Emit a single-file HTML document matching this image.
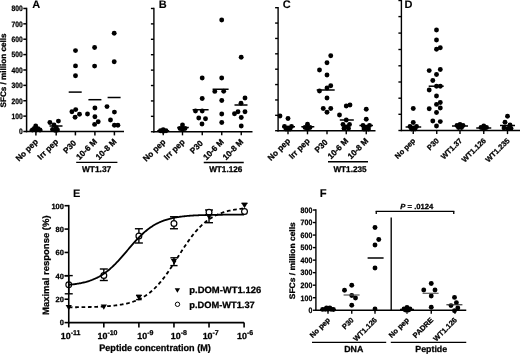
<!DOCTYPE html>
<html><head><meta charset="utf-8"><title>Figure</title>
<style>html,body{margin:0;padding:0;background:#fff}text{stroke:#000;stroke-width:0.28px;stroke-linejoin:round}svg{display:block;font-family:"Liberation Sans",sans-serif;will-change:transform;text-rendering:geometricPrecision}</style></head>
<body><svg width="520" height="354" viewBox="0 0 520 354" font-weight="bold" fill="#000">
<defs><filter id="soft" x="0" y="0" width="520" height="354" filterUnits="userSpaceOnUse"><feGaussianBlur stdDeviation="0.4"/></filter></defs>
<rect width="520" height="354" fill="#fff"/>
<g filter="url(#soft)">
<line x1="26.60" y1="7.75" x2="26.60" y2="132.25" stroke="#000" stroke-width="1.5" />
<line x1="25.85" y1="131.50" x2="124.00" y2="131.50" stroke="#000" stroke-width="1.5" />
<line x1="23.30" y1="131.50" x2="26.60" y2="131.50" stroke="#000" stroke-width="1.5" />
<text x="22.70" y="134.30" font-size="7.8" text-anchor="end" textLength="3.75" lengthAdjust="spacingAndGlyphs" >0</text>
<line x1="23.30" y1="116.12" x2="26.60" y2="116.12" stroke="#000" stroke-width="1.5" />
<text x="22.70" y="118.92" font-size="7.8" text-anchor="end" textLength="11.25" lengthAdjust="spacingAndGlyphs" >100</text>
<line x1="23.30" y1="100.74" x2="26.60" y2="100.74" stroke="#000" stroke-width="1.5" />
<text x="22.70" y="103.54" font-size="7.8" text-anchor="end" textLength="11.25" lengthAdjust="spacingAndGlyphs" >200</text>
<line x1="23.30" y1="85.36" x2="26.60" y2="85.36" stroke="#000" stroke-width="1.5" />
<text x="22.70" y="88.16" font-size="7.8" text-anchor="end" textLength="11.25" lengthAdjust="spacingAndGlyphs" >300</text>
<line x1="23.30" y1="69.98" x2="26.60" y2="69.98" stroke="#000" stroke-width="1.5" />
<text x="22.70" y="72.78" font-size="7.8" text-anchor="end" textLength="11.25" lengthAdjust="spacingAndGlyphs" >400</text>
<line x1="23.30" y1="54.60" x2="26.60" y2="54.60" stroke="#000" stroke-width="1.5" />
<text x="22.70" y="57.40" font-size="7.8" text-anchor="end" textLength="11.25" lengthAdjust="spacingAndGlyphs" >500</text>
<line x1="23.30" y1="39.22" x2="26.60" y2="39.22" stroke="#000" stroke-width="1.5" />
<text x="22.70" y="42.02" font-size="7.8" text-anchor="end" textLength="11.25" lengthAdjust="spacingAndGlyphs" >600</text>
<line x1="23.30" y1="23.84" x2="26.60" y2="23.84" stroke="#000" stroke-width="1.5" />
<text x="22.70" y="26.64" font-size="7.8" text-anchor="end" textLength="11.25" lengthAdjust="spacingAndGlyphs" >700</text>
<line x1="23.30" y1="8.46" x2="26.60" y2="8.46" stroke="#000" stroke-width="1.5" />
<text x="22.70" y="11.26" font-size="7.8" text-anchor="end" textLength="11.25" lengthAdjust="spacingAndGlyphs" >800</text>
<line x1="35.90" y1="131.50" x2="35.90" y2="135.40" stroke="#000" stroke-width="1.5" />
<line x1="56.20" y1="131.50" x2="56.20" y2="135.40" stroke="#000" stroke-width="1.5" />
<line x1="75.40" y1="131.50" x2="75.40" y2="135.40" stroke="#000" stroke-width="1.5" />
<line x1="94.90" y1="131.50" x2="94.90" y2="135.40" stroke="#000" stroke-width="1.5" />
<line x1="114.40" y1="131.50" x2="114.40" y2="135.40" stroke="#000" stroke-width="1.5" />
<text x="38.60" y="142.20" font-size="8.2" text-anchor="end" transform="rotate(-45 38.60 142.20)" >No pep</text>
<text x="58.90" y="142.20" font-size="8.2" text-anchor="end" transform="rotate(-45 58.90 142.20)" >Irr pep</text>
<text x="76.70" y="143.60" font-size="8.2" text-anchor="end" transform="rotate(-45 76.70 143.60)" >P30</text>
<text x="97.60" y="142.20" font-size="8.2" text-anchor="end" transform="rotate(-45 97.60 142.20)" >10-6 M</text>
<text x="117.10" y="142.20" font-size="8.2" text-anchor="end" transform="rotate(-45 117.10 142.20)" >10-8 M</text>
<text x="6.30" y="70.50" font-size="8" text-anchor="middle" transform="rotate(-90 6.30 70.50)" textLength="74" lengthAdjust="spacingAndGlyphs" >SFCs / million cells</text>
<text x="32.30" y="8.20" font-size="11" text-anchor="start" style="stroke-width:0.1px">A</text>
<circle cx="75.50" cy="50.60" r="2.45"/>
<circle cx="75.50" cy="65.90" r="2.45"/>
<circle cx="75.50" cy="75.80" r="2.45"/>
<circle cx="94.60" cy="47.50" r="2.45"/>
<circle cx="94.60" cy="66.10" r="2.45"/>
<circle cx="114.20" cy="33.30" r="2.45"/>
<circle cx="114.20" cy="61.80" r="2.45"/>
<line x1="68.70" y1="92.10" x2="81.70" y2="92.10" stroke="#000" stroke-width="1.5" />
<line x1="88.40" y1="99.70" x2="101.40" y2="99.70" stroke="#000" stroke-width="1.5" />
<line x1="107.60" y1="97.50" x2="120.60" y2="97.50" stroke="#000" stroke-width="1.5" />
<circle cx="71.90" cy="111.80" r="2.45"/>
<circle cx="75.70" cy="109.60" r="2.45"/>
<circle cx="79.50" cy="114.30" r="2.45"/>
<circle cx="75.10" cy="117.30" r="2.45"/>
<circle cx="87.50" cy="114.00" r="2.45"/>
<circle cx="94.90" cy="108.00" r="2.45"/>
<circle cx="94.90" cy="116.70" r="2.45"/>
<circle cx="98.20" cy="121.70" r="2.45"/>
<circle cx="94.60" cy="124.40" r="2.45"/>
<circle cx="107.00" cy="106.60" r="2.45"/>
<circle cx="114.40" cy="112.10" r="2.45"/>
<circle cx="110.50" cy="120.00" r="2.45"/>
<circle cx="114.40" cy="125.20" r="2.45"/>
<circle cx="117.90" cy="125.20" r="2.45"/>
<circle cx="35.70" cy="126.00" r="2.45"/>
<circle cx="32.40" cy="130.00" r="2.45"/>
<circle cx="36.20" cy="130.00" r="2.45"/>
<circle cx="40.00" cy="130.00" r="2.45"/>
<circle cx="34.30" cy="128.50" r="2.45"/>
<circle cx="38.00" cy="128.80" r="2.45"/>
<line x1="29.40" y1="130.20" x2="42.40" y2="130.20" stroke="#000" stroke-width="1.5" />
<circle cx="49.90" cy="122.50" r="2.45"/>
<circle cx="58.40" cy="121.10" r="2.45"/>
<circle cx="54.00" cy="125.00" r="2.45"/>
<circle cx="56.20" cy="127.80" r="2.45"/>
<circle cx="52.50" cy="129.50" r="2.45"/>
<circle cx="57.50" cy="130.00" r="2.45"/>
<circle cx="55.00" cy="130.20" r="2.45"/>
<line x1="49.50" y1="126.00" x2="62.50" y2="126.00" stroke="#000" stroke-width="1.5" />
<line x1="76.20" y1="162.30" x2="117.40" y2="162.30" stroke="#000" stroke-width="1.3" />
<text x="96.60" y="171.80" font-size="8.4" text-anchor="middle" >WT1.37</text>
<line x1="153.90" y1="7.80" x2="153.90" y2="132.45" stroke="#000" stroke-width="1.4" />
<line x1="153.20" y1="131.75" x2="252.50" y2="131.75" stroke="#000" stroke-width="1.4" />
<line x1="150.90" y1="131.75" x2="153.90" y2="131.75" stroke="#000" stroke-width="1.4" />
<line x1="150.90" y1="116.34" x2="153.90" y2="116.34" stroke="#000" stroke-width="1.4" />
<line x1="150.90" y1="100.93" x2="153.90" y2="100.93" stroke="#000" stroke-width="1.4" />
<line x1="150.90" y1="85.52" x2="153.90" y2="85.52" stroke="#000" stroke-width="1.4" />
<line x1="150.90" y1="70.11" x2="153.90" y2="70.11" stroke="#000" stroke-width="1.4" />
<line x1="150.90" y1="54.70" x2="153.90" y2="54.70" stroke="#000" stroke-width="1.4" />
<line x1="150.90" y1="39.29" x2="153.90" y2="39.29" stroke="#000" stroke-width="1.4" />
<line x1="150.90" y1="23.88" x2="153.90" y2="23.88" stroke="#000" stroke-width="1.4" />
<line x1="150.90" y1="8.47" x2="153.90" y2="8.47" stroke="#000" stroke-width="1.4" />
<line x1="163.25" y1="131.75" x2="163.25" y2="135.35" stroke="#000" stroke-width="1.4" />
<line x1="182.50" y1="131.75" x2="182.50" y2="135.35" stroke="#000" stroke-width="1.4" />
<line x1="202.25" y1="131.75" x2="202.25" y2="135.35" stroke="#000" stroke-width="1.4" />
<line x1="221.75" y1="131.75" x2="221.75" y2="135.35" stroke="#000" stroke-width="1.4" />
<line x1="241.25" y1="131.75" x2="241.25" y2="135.35" stroke="#000" stroke-width="1.4" />
<text x="165.95" y="142.45" font-size="8.2" text-anchor="end" transform="rotate(-45 165.95 142.45)" >No pep</text>
<text x="185.20" y="142.45" font-size="8.2" text-anchor="end" transform="rotate(-45 185.20 142.45)" >Irr pep</text>
<text x="203.55" y="143.85" font-size="8.2" text-anchor="end" transform="rotate(-45 203.55 143.85)" >P30</text>
<text x="224.45" y="142.45" font-size="8.2" text-anchor="end" transform="rotate(-45 224.45 142.45)" >10-6 M</text>
<text x="243.95" y="142.45" font-size="8.2" text-anchor="end" transform="rotate(-45 243.95 142.45)" >10-8 M</text>
<text x="158.80" y="8.20" font-size="11" text-anchor="start" style="stroke-width:0.1px">B</text>
<circle cx="221.70" cy="20.00" r="2.45"/>
<circle cx="241.20" cy="57.20" r="2.45"/>
<circle cx="202.20" cy="78.00" r="2.45"/>
<circle cx="221.70" cy="78.00" r="2.45"/>
<circle cx="202.20" cy="98.50" r="2.45"/>
<circle cx="195.50" cy="111.00" r="2.45"/>
<circle cx="202.20" cy="111.00" r="2.45"/>
<circle cx="198.75" cy="118.00" r="2.45"/>
<circle cx="205.50" cy="118.75" r="2.45"/>
<circle cx="202.00" cy="124.00" r="2.45"/>
<line x1="192.60" y1="109.75" x2="208.60" y2="109.75" stroke="#000" stroke-width="1.5" />
<circle cx="214.80" cy="91.40" r="2.45"/>
<circle cx="223.70" cy="91.20" r="2.45"/>
<circle cx="221.75" cy="100.50" r="2.45"/>
<circle cx="221.75" cy="114.00" r="2.45"/>
<circle cx="221.75" cy="122.50" r="2.45"/>
<line x1="212.60" y1="89.25" x2="228.60" y2="89.25" stroke="#000" stroke-width="1.5" />
<circle cx="245.00" cy="98.00" r="2.45"/>
<circle cx="241.00" cy="103.30" r="2.45"/>
<circle cx="234.50" cy="113.75" r="2.45"/>
<circle cx="238.00" cy="111.75" r="2.45"/>
<circle cx="245.00" cy="111.75" r="2.45"/>
<circle cx="241.25" cy="117.50" r="2.45"/>
<circle cx="241.25" cy="126.00" r="2.45"/>
<line x1="234.50" y1="105.00" x2="247.50" y2="105.00" stroke="#000" stroke-width="1.5" />
<circle cx="160.50" cy="130.80" r="2.45"/>
<circle cx="163.20" cy="129.80" r="2.45"/>
<circle cx="166.00" cy="130.80" r="2.45"/>
<circle cx="163.20" cy="131.20" r="2.45"/>
<line x1="157.20" y1="130.80" x2="169.20" y2="130.80" stroke="#000" stroke-width="1.5" />
<circle cx="182.50" cy="125.00" r="2.45"/>
<circle cx="180.00" cy="128.50" r="2.45"/>
<circle cx="185.00" cy="128.50" r="2.45"/>
<circle cx="182.50" cy="129.50" r="2.45"/>
<line x1="177.20" y1="127.50" x2="188.80" y2="127.50" stroke="#000" stroke-width="1.5" />
<line x1="203.75" y1="162.50" x2="243.75" y2="162.50" stroke="#000" stroke-width="1.3" />
<text x="225.75" y="172.00" font-size="8.2" text-anchor="middle" >WT1.126</text>
<line x1="278.10" y1="7.00" x2="278.10" y2="131.40" stroke="#000" stroke-width="1.4" />
<line x1="277.40" y1="130.70" x2="375.50" y2="130.70" stroke="#000" stroke-width="1.4" />
<line x1="275.10" y1="130.70" x2="278.10" y2="130.70" stroke="#000" stroke-width="1.4" />
<line x1="275.10" y1="115.32" x2="278.10" y2="115.32" stroke="#000" stroke-width="1.4" />
<line x1="275.10" y1="99.95" x2="278.10" y2="99.95" stroke="#000" stroke-width="1.4" />
<line x1="275.10" y1="84.57" x2="278.10" y2="84.57" stroke="#000" stroke-width="1.4" />
<line x1="275.10" y1="69.20" x2="278.10" y2="69.20" stroke="#000" stroke-width="1.4" />
<line x1="275.10" y1="53.82" x2="278.10" y2="53.82" stroke="#000" stroke-width="1.4" />
<line x1="275.10" y1="38.45" x2="278.10" y2="38.45" stroke="#000" stroke-width="1.4" />
<line x1="275.10" y1="23.07" x2="278.10" y2="23.07" stroke="#000" stroke-width="1.4" />
<line x1="275.10" y1="7.70" x2="278.10" y2="7.70" stroke="#000" stroke-width="1.4" />
<line x1="288.00" y1="130.70" x2="288.00" y2="134.30" stroke="#000" stroke-width="1.4" />
<line x1="307.50" y1="130.70" x2="307.50" y2="134.30" stroke="#000" stroke-width="1.4" />
<line x1="327.00" y1="130.70" x2="327.00" y2="134.30" stroke="#000" stroke-width="1.4" />
<line x1="346.25" y1="130.70" x2="346.25" y2="134.30" stroke="#000" stroke-width="1.4" />
<line x1="366.25" y1="130.70" x2="366.25" y2="134.30" stroke="#000" stroke-width="1.4" />
<text x="290.70" y="141.50" font-size="8.2" text-anchor="end" transform="rotate(-45 290.70 141.50)" >No pep</text>
<text x="310.20" y="141.50" font-size="8.2" text-anchor="end" transform="rotate(-45 310.20 141.50)" >Irr pep</text>
<text x="328.30" y="142.90" font-size="8.2" text-anchor="end" transform="rotate(-45 328.30 142.90)" >P30</text>
<text x="348.95" y="141.50" font-size="8.2" text-anchor="end" transform="rotate(-45 348.95 141.50)" >10-6 M</text>
<text x="368.95" y="141.50" font-size="8.2" text-anchor="end" transform="rotate(-45 368.95 141.50)" >10-8 M</text>
<text x="282.80" y="8.20" font-size="11" text-anchor="start" style="stroke-width:0.1px">C</text>
<circle cx="330.75" cy="55.75" r="2.45"/>
<circle cx="327.00" cy="62.75" r="2.45"/>
<circle cx="319.50" cy="70.00" r="2.45"/>
<circle cx="327.00" cy="75.00" r="2.45"/>
<circle cx="330.75" cy="85.75" r="2.45"/>
<circle cx="327.00" cy="88.00" r="2.45"/>
<circle cx="319.50" cy="91.00" r="2.45"/>
<circle cx="327.00" cy="98.00" r="2.45"/>
<circle cx="323.25" cy="108.50" r="2.45"/>
<circle cx="330.75" cy="108.50" r="2.45"/>
<circle cx="327.00" cy="112.30" r="2.45"/>
<line x1="316.70" y1="90.00" x2="334.70" y2="90.00" stroke="#000" stroke-width="1.5" />
<circle cx="280.00" cy="116.00" r="2.45"/>
<circle cx="288.00" cy="118.50" r="2.45"/>
<circle cx="284.50" cy="126.50" r="2.45"/>
<circle cx="291.50" cy="126.50" r="2.45"/>
<circle cx="286.00" cy="129.00" r="2.45"/>
<circle cx="290.00" cy="129.00" r="2.45"/>
<circle cx="288.00" cy="128.00" r="2.45"/>
<line x1="282.00" y1="126.75" x2="295.00" y2="126.75" stroke="#000" stroke-width="1.5" />
<circle cx="307.50" cy="124.25" r="2.45"/>
<circle cx="305.00" cy="127.50" r="2.45"/>
<circle cx="310.00" cy="127.50" r="2.45"/>
<circle cx="307.50" cy="129.00" r="2.45"/>
<line x1="301.30" y1="126.75" x2="314.30" y2="126.75" stroke="#000" stroke-width="1.5" />
<circle cx="346.25" cy="106.00" r="2.45"/>
<circle cx="350.00" cy="105.00" r="2.45"/>
<circle cx="339.50" cy="115.00" r="2.45"/>
<circle cx="346.25" cy="120.00" r="2.45"/>
<circle cx="343.00" cy="124.50" r="2.45"/>
<circle cx="349.50" cy="124.50" r="2.45"/>
<circle cx="346.25" cy="127.00" r="2.45"/>
<circle cx="344.00" cy="128.50" r="2.45"/>
<circle cx="348.50" cy="128.50" r="2.45"/>
<line x1="339.80" y1="120.00" x2="353.80" y2="120.00" stroke="#000" stroke-width="1.5" />
<circle cx="366.25" cy="109.25" r="2.45"/>
<circle cx="366.25" cy="119.25" r="2.45"/>
<circle cx="363.00" cy="125.50" r="2.45"/>
<circle cx="369.50" cy="125.50" r="2.45"/>
<circle cx="366.25" cy="127.50" r="2.45"/>
<circle cx="364.00" cy="129.00" r="2.45"/>
<circle cx="368.50" cy="129.00" r="2.45"/>
<line x1="359.40" y1="125.50" x2="373.00" y2="125.50" stroke="#000" stroke-width="1.5" />
<line x1="328.00" y1="161.75" x2="368.00" y2="161.75" stroke="#000" stroke-width="1.3" />
<text x="350.00" y="171.50" font-size="8.2" text-anchor="middle" >WT1.235</text>
<line x1="401.40" y1="-0.20" x2="401.40" y2="131.20" stroke="#000" stroke-width="1.4" />
<line x1="400.70" y1="130.50" x2="520.00" y2="130.50" stroke="#000" stroke-width="1.4" />
<line x1="398.40" y1="130.50" x2="401.40" y2="130.50" stroke="#000" stroke-width="1.4" />
<line x1="398.40" y1="114.30" x2="401.40" y2="114.30" stroke="#000" stroke-width="1.4" />
<line x1="398.40" y1="98.20" x2="401.40" y2="98.20" stroke="#000" stroke-width="1.4" />
<line x1="398.40" y1="82.00" x2="401.40" y2="82.00" stroke="#000" stroke-width="1.4" />
<line x1="398.40" y1="65.80" x2="401.40" y2="65.80" stroke="#000" stroke-width="1.4" />
<line x1="398.40" y1="49.50" x2="401.40" y2="49.50" stroke="#000" stroke-width="1.4" />
<line x1="398.40" y1="33.10" x2="401.40" y2="33.10" stroke="#000" stroke-width="1.4" />
<line x1="398.40" y1="16.60" x2="401.40" y2="16.60" stroke="#000" stroke-width="1.4" />
<line x1="398.40" y1="0.50" x2="401.40" y2="0.50" stroke="#000" stroke-width="1.4" />
<line x1="413.25" y1="130.50" x2="413.25" y2="134.10" stroke="#000" stroke-width="1.4" />
<line x1="436.75" y1="130.50" x2="436.75" y2="134.10" stroke="#000" stroke-width="1.4" />
<line x1="460.00" y1="130.50" x2="460.00" y2="134.10" stroke="#000" stroke-width="1.4" />
<line x1="483.75" y1="130.50" x2="483.75" y2="134.10" stroke="#000" stroke-width="1.4" />
<line x1="507.50" y1="130.50" x2="507.50" y2="134.10" stroke="#000" stroke-width="1.4" />
<text x="415.85" y="141.20" font-size="7.5" text-anchor="end" transform="rotate(-45 415.85 141.20)" >No pep</text>
<text x="439.35" y="141.20" font-size="7.5" text-anchor="end" transform="rotate(-45 439.35 141.20)" >P30</text>
<text x="462.60" y="141.20" font-size="7.5" text-anchor="end" transform="rotate(-45 462.60 141.20)" >WT1.37</text>
<text x="486.35" y="141.20" font-size="7.5" text-anchor="end" transform="rotate(-45 486.35 141.20)" >WT1.126</text>
<text x="510.10" y="141.20" font-size="7.5" text-anchor="end" transform="rotate(-45 510.10 141.20)" >WT1.235</text>
<text x="404.50" y="8.20" font-size="11" text-anchor="start" style="stroke-width:0.1px">D</text>
<circle cx="436.50" cy="30.00" r="2.45"/>
<circle cx="436.50" cy="40.00" r="2.45"/>
<circle cx="436.50" cy="49.30" r="2.45"/>
<circle cx="440.30" cy="47.80" r="2.45"/>
<circle cx="429.20" cy="70.60" r="2.45"/>
<circle cx="440.30" cy="69.50" r="2.45"/>
<circle cx="436.50" cy="74.50" r="2.45"/>
<circle cx="432.80" cy="80.50" r="2.45"/>
<circle cx="436.50" cy="86.20" r="2.45"/>
<circle cx="440.30" cy="86.20" r="2.45"/>
<circle cx="429.20" cy="90.00" r="2.45"/>
<circle cx="436.50" cy="96.00" r="2.45"/>
<circle cx="440.30" cy="102.50" r="2.45"/>
<circle cx="436.50" cy="104.40" r="2.45"/>
<circle cx="429.20" cy="108.80" r="2.45"/>
<circle cx="440.30" cy="108.00" r="2.45"/>
<circle cx="436.50" cy="112.50" r="2.45"/>
<circle cx="432.80" cy="121.00" r="2.45"/>
<circle cx="440.30" cy="121.60" r="2.45"/>
<circle cx="436.50" cy="126.00" r="2.45"/>
<line x1="428.70" y1="86.20" x2="443.70" y2="86.20" stroke="#000" stroke-width="1.5" />
<circle cx="413.25" cy="108.50" r="2.45"/>
<circle cx="413.25" cy="122.50" r="2.45"/>
<circle cx="410.00" cy="126.50" r="2.45"/>
<circle cx="416.50" cy="126.50" r="2.45"/>
<circle cx="411.50" cy="129.00" r="2.45"/>
<circle cx="415.00" cy="129.00" r="2.45"/>
<circle cx="413.25" cy="128.00" r="2.45"/>
<line x1="405.60" y1="127.00" x2="421.20" y2="127.00" stroke="#000" stroke-width="1.5" />
<circle cx="457.00" cy="125.50" r="2.45"/>
<circle cx="460.00" cy="124.50" r="2.45"/>
<circle cx="463.00" cy="125.50" r="2.45"/>
<circle cx="458.50" cy="127.50" r="2.45"/>
<circle cx="461.50" cy="127.50" r="2.45"/>
<line x1="452.00" y1="126.00" x2="468.00" y2="126.00" stroke="#000" stroke-width="1.5" />
<circle cx="481.00" cy="127.50" r="2.45"/>
<circle cx="483.75" cy="126.00" r="2.45"/>
<circle cx="486.50" cy="127.50" r="2.45"/>
<circle cx="483.75" cy="129.00" r="2.45"/>
<line x1="476.25" y1="128.00" x2="491.25" y2="128.00" stroke="#000" stroke-width="1.5" />
<circle cx="507.50" cy="116.25" r="2.45"/>
<circle cx="505.00" cy="122.25" r="2.45"/>
<circle cx="510.00" cy="125.00" r="2.45"/>
<circle cx="504.00" cy="128.00" r="2.45"/>
<circle cx="508.00" cy="128.50" r="2.45"/>
<circle cx="511.00" cy="128.50" r="2.45"/>
<line x1="500.00" y1="125.50" x2="515.00" y2="125.50" stroke="#000" stroke-width="1.5" />
<line x1="68.75" y1="204.90" x2="68.75" y2="323.40" stroke="#000" stroke-width="1.6" />
<line x1="67.95" y1="322.60" x2="244.10" y2="322.60" stroke="#000" stroke-width="1.6" />
<line x1="64.55" y1="322.60" x2="68.75" y2="322.60" stroke="#000" stroke-width="1.6" />
<text x="63.95" y="325.40" font-size="7.5" text-anchor="end" >0</text>
<line x1="64.55" y1="299.22" x2="68.75" y2="299.22" stroke="#000" stroke-width="1.6" />
<text x="63.95" y="302.02" font-size="7.5" text-anchor="end" >20</text>
<line x1="64.55" y1="275.84" x2="68.75" y2="275.84" stroke="#000" stroke-width="1.6" />
<text x="63.95" y="278.64" font-size="7.5" text-anchor="end" >40</text>
<line x1="64.55" y1="252.46" x2="68.75" y2="252.46" stroke="#000" stroke-width="1.6" />
<text x="63.95" y="255.26" font-size="7.5" text-anchor="end" >60</text>
<line x1="64.55" y1="229.08" x2="68.75" y2="229.08" stroke="#000" stroke-width="1.6" />
<text x="63.95" y="231.88" font-size="7.5" text-anchor="end" >80</text>
<line x1="64.55" y1="205.70" x2="68.75" y2="205.70" stroke="#000" stroke-width="1.6" />
<text x="63.95" y="208.50" font-size="7.5" text-anchor="end" >100</text>
<line x1="68.75" y1="322.60" x2="68.75" y2="327.40" stroke="#000" stroke-width="1.6" />
<line x1="103.82" y1="322.60" x2="103.82" y2="327.40" stroke="#000" stroke-width="1.6" />
<line x1="138.89" y1="322.60" x2="138.89" y2="327.40" stroke="#000" stroke-width="1.6" />
<line x1="173.96" y1="322.60" x2="173.96" y2="327.40" stroke="#000" stroke-width="1.6" />
<line x1="209.03" y1="322.60" x2="209.03" y2="327.40" stroke="#000" stroke-width="1.6" />
<line x1="244.10" y1="322.60" x2="244.10" y2="327.40" stroke="#000" stroke-width="1.6" />
<text x="73.00" y="197.30" font-size="11" text-anchor="start" style="stroke-width:0.1px">E</text>
<text x="48.60" y="265.20" font-size="9.2" text-anchor="middle" transform="rotate(-90 48.60 265.20)" textLength="99.5" lengthAdjust="spacingAndGlyphs" >Maximal response (%)</text>
<text x="155.00" y="350.50" font-size="9.5" text-anchor="middle" textLength="111.5" lengthAdjust="spacingAndGlyphs" >Peptide concentration (M)</text>
<text x="60.75" y="338.6" font-size="8.9">10<tspan dy="-4.1" font-size="7">-11</tspan></text>
<text x="97.52" y="338.6" font-size="8.9">10<tspan dy="-4.1" font-size="7">-10</tspan></text>
<text x="137.29" y="338.6" font-size="8.9">10<tspan dy="-4.1" font-size="7">-9</tspan></text>
<text x="170.76" y="338.6" font-size="8.9">10<tspan dy="-4.1" font-size="7">-8</tspan></text>
<text x="202.63" y="338.6" font-size="8.9">10<tspan dy="-4.1" font-size="7">-7</tspan></text>
<text x="237.00" y="338.6" font-size="8.9">10<tspan dy="-4.1" font-size="7">-6</tspan></text>
<line x1="68.75" y1="275.60" x2="68.75" y2="293.80" stroke="#000" stroke-width="1.4" />
<line x1="64.75" y1="275.60" x2="72.75" y2="275.60" stroke="#000" stroke-width="1.4" />
<line x1="64.75" y1="293.80" x2="72.75" y2="293.80" stroke="#000" stroke-width="1.4" />
<circle cx="68.75" cy="284.75" r="2.9" fill="none" stroke="#000" stroke-width="1.1"/>
<line x1="103.82" y1="269.00" x2="103.82" y2="280.50" stroke="#000" stroke-width="1.4" />
<line x1="99.82" y1="269.00" x2="107.82" y2="269.00" stroke="#000" stroke-width="1.4" />
<line x1="99.82" y1="280.50" x2="107.82" y2="280.50" stroke="#000" stroke-width="1.4" />
<circle cx="103.82" cy="275.50" r="2.9" fill="#fff" stroke="#000" stroke-width="1.2"/>
<line x1="138.89" y1="228.75" x2="138.89" y2="243.00" stroke="#000" stroke-width="1.4" />
<line x1="134.89" y1="228.75" x2="142.89" y2="228.75" stroke="#000" stroke-width="1.4" />
<line x1="134.89" y1="243.00" x2="142.89" y2="243.00" stroke="#000" stroke-width="1.4" />
<circle cx="138.89" cy="236.00" r="2.9" fill="#fff" stroke="#000" stroke-width="1.2"/>
<line x1="173.96" y1="216.75" x2="173.96" y2="228.75" stroke="#000" stroke-width="1.4" />
<line x1="169.96" y1="216.75" x2="177.96" y2="216.75" stroke="#000" stroke-width="1.4" />
<line x1="169.96" y1="228.75" x2="177.96" y2="228.75" stroke="#000" stroke-width="1.4" />
<circle cx="173.96" cy="223.50" r="2.9" fill="#fff" stroke="#000" stroke-width="1.2"/>
<line x1="209.03" y1="210.00" x2="209.03" y2="222.70" stroke="#000" stroke-width="1.4" />
<line x1="205.03" y1="210.00" x2="213.03" y2="210.00" stroke="#000" stroke-width="1.4" />
<line x1="205.03" y1="222.70" x2="213.03" y2="222.70" stroke="#000" stroke-width="1.4" />
<circle cx="209.03" cy="212.30" r="2.9" fill="#fff" stroke="#000" stroke-width="1.2"/>
<circle cx="244.50" cy="211.50" r="2.9" fill="#fff" stroke="#000" stroke-width="1.2"/>
<polyline points="68.75,284.86 69.63,284.77 70.50,284.68 71.38,284.58 72.26,284.48 73.13,284.37 74.01,284.26 74.89,284.14 75.76,284.01 76.64,283.87 77.52,283.73 78.39,283.58 79.27,283.42 80.15,283.26 81.02,283.08 81.90,282.90 82.78,282.70 83.65,282.50 84.53,282.28 85.41,282.05 86.28,281.82 87.16,281.56 88.04,281.30 88.92,281.02 89.79,280.73 90.67,280.43 91.55,280.10 92.42,279.77 93.30,279.41 94.18,279.04 95.05,278.66 95.93,278.25 96.81,277.83 97.68,277.39 98.56,276.93 99.44,276.44 100.31,275.94 101.19,275.42 102.07,274.87 102.94,274.31 103.82,273.72 104.70,273.11 105.57,272.47 106.45,271.82 107.33,271.14 108.20,270.44 109.08,269.71 109.96,268.97 110.83,268.20 111.71,267.40 112.59,266.59 113.46,265.75 114.34,264.90 115.22,264.02 116.09,263.13 116.97,262.21 117.85,261.28 118.72,260.34 119.60,259.37 120.48,258.40 121.36,257.41 122.23,256.41 123.11,255.40 123.99,254.38 124.86,253.36 125.74,252.33 126.62,251.30 127.49,250.27 128.37,249.23 129.25,248.20 130.12,247.18 131.00,246.16 131.88,245.14 132.75,244.14 133.63,243.14 134.51,242.16 135.38,241.19 136.26,240.23 137.14,239.29 138.01,238.36 138.89,237.46 139.77,236.57 140.64,235.70 141.52,234.85 142.40,234.03 143.27,233.22 144.15,232.44 145.03,231.68 145.90,230.94 146.78,230.22 147.66,229.53 148.53,228.86 149.41,228.22 150.29,227.59 151.16,226.99 152.04,226.41 152.92,225.85 153.79,225.32 154.67,224.80 155.55,224.31 156.43,223.83 157.30,223.38 158.18,222.94 159.06,222.53 159.93,222.13 160.81,221.75 161.69,221.39 162.56,221.04 163.44,220.71 164.32,220.40 165.19,220.10 166.07,219.81 166.95,219.54 167.82,219.28 168.70,219.03 169.58,218.80 170.45,218.58 171.33,218.36 172.21,218.16 173.08,217.97 173.96,217.79 174.84,217.62 175.71,217.46 176.59,217.30 177.47,217.16 178.34,217.02 179.22,216.88 180.10,216.76 180.97,216.64 181.85,216.53 182.73,216.42 183.60,216.32 184.48,216.23 185.36,216.14 186.23,216.05 187.11,215.97 187.99,215.90 188.86,215.82 189.74,215.76 190.62,215.69 191.50,215.63 192.37,215.57 193.25,215.52 194.13,215.47 195.00,215.42 195.88,215.37 196.76,215.33 197.63,215.29 198.51,215.25 199.39,215.21 200.26,215.18 201.14,215.14 202.02,215.11 202.89,215.08 203.77,215.06 204.65,215.03 205.52,215.00 206.40,214.98 207.28,214.96 208.15,214.94 209.03,214.92 209.91,214.90 210.78,214.88 211.66,214.87 212.54,214.85 213.41,214.84 214.29,214.82 215.17,214.81 216.04,214.80 216.92,214.78 217.80,214.77 218.67,214.76 219.55,214.75 220.43,214.74 221.30,214.73 222.18,214.73 223.06,214.72 223.93,214.71 224.81,214.70 225.69,214.70 226.56,214.69 227.44,214.68 228.32,214.68 229.20,214.67 230.07,214.67 230.95,214.66 231.83,214.66 232.70,214.66 233.58,214.65 234.46,214.65 235.33,214.64 236.21,214.64 237.09,214.64 237.96,214.63 238.84,214.63 239.72,214.63 240.59,214.63 241.47,214.62 242.35,214.62 243.22,214.62 244.10,214.62" fill="none" stroke="#000" stroke-width="1.8"/>
<polyline points="68.75,307.30 69.63,307.29 70.50,307.28 71.38,307.28 72.26,307.27 73.13,307.26 74.01,307.25 74.89,307.24 75.76,307.24 76.64,307.23 77.52,307.22 78.39,307.21 79.27,307.20 80.15,307.18 81.02,307.17 81.90,307.16 82.78,307.14 83.65,307.13 84.53,307.11 85.41,307.10 86.28,307.08 87.16,307.06 88.04,307.04 88.92,307.02 89.79,307.00 90.67,306.98 91.55,306.96 92.42,306.93 93.30,306.90 94.18,306.88 95.05,306.85 95.93,306.81 96.81,306.78 97.68,306.75 98.56,306.71 99.44,306.67 100.31,306.63 101.19,306.59 102.07,306.54 102.94,306.49 103.82,306.44 104.70,306.39 105.57,306.33 106.45,306.27 107.33,306.21 108.20,306.14 109.08,306.07 109.96,306.00 110.83,305.92 111.71,305.84 112.59,305.75 113.46,305.66 114.34,305.56 115.22,305.46 116.09,305.35 116.97,305.24 117.85,305.12 118.72,304.99 119.60,304.86 120.48,304.72 121.36,304.57 122.23,304.41 123.11,304.25 123.99,304.08 124.86,303.90 125.74,303.71 126.62,303.51 127.49,303.29 128.37,303.07 129.25,302.84 130.12,302.59 131.00,302.33 131.88,302.06 132.75,301.78 133.63,301.48 134.51,301.16 135.38,300.84 136.26,300.49 137.14,300.13 138.01,299.75 138.89,299.35 139.77,298.93 140.64,298.50 141.52,298.04 142.40,297.56 143.27,297.06 144.15,296.54 145.03,296.00 145.90,295.43 146.78,294.84 147.66,294.22 148.53,293.58 149.41,292.91 150.29,292.21 151.16,291.49 152.04,290.74 152.92,289.96 153.79,289.16 154.67,288.32 155.55,287.46 156.43,286.56 157.30,285.64 158.18,284.69 159.06,283.71 159.93,282.70 160.81,281.66 161.69,280.59 162.56,279.50 163.44,278.38 164.32,277.23 165.19,276.05 166.07,274.86 166.95,273.63 167.82,272.39 168.70,271.13 169.58,269.84 170.45,268.54 171.33,267.22 172.21,265.89 173.08,264.54 173.96,263.19 174.84,261.82 175.71,260.45 176.59,259.07 177.47,257.69 178.34,256.31 179.22,254.93 180.10,253.55 180.97,252.18 181.85,250.81 182.73,249.46 183.60,248.12 184.48,246.79 185.36,245.47 186.23,244.17 187.11,242.89 187.99,241.63 188.86,240.39 189.74,239.17 190.62,237.98 191.50,236.81 192.37,235.67 193.25,234.55 194.13,233.46 195.00,232.40 195.88,231.37 196.76,230.37 197.63,229.39 198.51,228.44 199.39,227.53 200.26,226.64 201.14,225.78 202.02,224.95 202.89,224.15 203.77,223.38 204.65,222.63 205.52,221.92 206.40,221.23 207.28,220.56 208.15,219.93 209.03,219.31 209.91,218.73 210.78,218.16 211.66,217.62 212.54,217.11 213.41,216.61 214.29,216.14 215.17,215.69 216.04,215.25 216.92,214.84 217.80,214.45 218.67,214.07 219.55,213.71 220.43,213.37 221.30,213.04 222.18,212.73 223.06,212.44 223.93,212.15 224.81,211.89 225.69,211.63 226.56,211.39 227.44,211.16 228.32,210.94 229.20,210.73 230.07,210.53 230.95,210.34 231.83,210.16 232.70,209.99 233.58,209.83 234.46,209.67 235.33,209.53 236.21,209.39 237.09,209.26 237.96,209.13 238.84,209.01 239.72,208.90 240.59,208.79 241.47,208.69 242.35,208.60 243.22,208.51 244.10,208.42" fill="none" stroke="#000" stroke-width="1.8" stroke-dasharray="3.7 2.7"/>
<polygon points="65.65,305.02 71.85,305.02 68.75,310.29"/>
<polygon points="100.72,304.52 106.92,304.52 103.82,309.79"/>
<polygon points="135.79,295.02 141.99,295.02 138.89,300.29"/>
<polygon points="170.86,259.02 177.06,259.02 173.96,264.29"/>
<polygon points="205.93,214.22 212.13,214.22 209.03,219.49"/>
<polygon points="241.40,202.92 247.60,202.92 244.50,208.19"/>
<line x1="173.96" y1="257.80" x2="173.96" y2="265.60" stroke="#000" stroke-width="1.4" />
<line x1="170.36" y1="257.80" x2="177.56" y2="257.80" stroke="#000" stroke-width="1.4" />
<line x1="170.36" y1="265.60" x2="177.56" y2="265.60" stroke="#000" stroke-width="1.4" />
<line x1="138.89" y1="295.30" x2="138.89" y2="299.60" stroke="#000" stroke-width="1.4" />
<line x1="136.09" y1="295.30" x2="141.69" y2="295.30" stroke="#000" stroke-width="1.4" />
<line x1="136.09" y1="299.60" x2="141.69" y2="299.60" stroke="#000" stroke-width="1.4" />
<line x1="241.50" y1="203.20" x2="247.50" y2="203.20" stroke="#000" stroke-width="1.2" />
<polygon points="174.70,288.14 180.10,288.14 177.40,292.73"/>
<text x="189.25" y="293.30" font-size="9.2" text-anchor="start" textLength="72" lengthAdjust="spacingAndGlyphs" >p.DOM-WT1.126</text>
<circle cx="177.5" cy="304.3" r="2.2" fill="#fff" stroke="#000" stroke-width="1"/>
<text x="189.25" y="307.80" font-size="9.2" text-anchor="start" textLength="65.5" lengthAdjust="spacingAndGlyphs" >p.DOM-WT1.37</text>
<line x1="315.90" y1="209.30" x2="315.90" y2="310.95" stroke="#000" stroke-width="1.4" />
<line x1="315.20" y1="310.25" x2="466.25" y2="310.25" stroke="#000" stroke-width="1.4" />
<line x1="312.90" y1="310.25" x2="315.90" y2="310.25" stroke="#000" stroke-width="1.4" />
<text x="312.30" y="313.05" font-size="7.8" text-anchor="end" textLength="3.9" lengthAdjust="spacingAndGlyphs" >0</text>
<line x1="312.90" y1="297.72" x2="315.90" y2="297.72" stroke="#000" stroke-width="1.4" />
<text x="312.30" y="300.52" font-size="7.8" text-anchor="end" textLength="11.7" lengthAdjust="spacingAndGlyphs" >100</text>
<line x1="312.90" y1="285.19" x2="315.90" y2="285.19" stroke="#000" stroke-width="1.4" />
<text x="312.30" y="287.99" font-size="7.8" text-anchor="end" textLength="11.7" lengthAdjust="spacingAndGlyphs" >200</text>
<line x1="312.90" y1="272.66" x2="315.90" y2="272.66" stroke="#000" stroke-width="1.4" />
<text x="312.30" y="275.46" font-size="7.8" text-anchor="end" textLength="11.7" lengthAdjust="spacingAndGlyphs" >300</text>
<line x1="312.90" y1="260.13" x2="315.90" y2="260.13" stroke="#000" stroke-width="1.4" />
<text x="312.30" y="262.93" font-size="7.8" text-anchor="end" textLength="11.7" lengthAdjust="spacingAndGlyphs" >400</text>
<line x1="312.90" y1="247.60" x2="315.90" y2="247.60" stroke="#000" stroke-width="1.4" />
<text x="312.30" y="250.40" font-size="7.8" text-anchor="end" textLength="11.7" lengthAdjust="spacingAndGlyphs" >500</text>
<line x1="312.90" y1="235.07" x2="315.90" y2="235.07" stroke="#000" stroke-width="1.4" />
<text x="312.30" y="237.87" font-size="7.8" text-anchor="end" textLength="11.7" lengthAdjust="spacingAndGlyphs" >600</text>
<line x1="312.90" y1="222.54" x2="315.90" y2="222.54" stroke="#000" stroke-width="1.4" />
<text x="312.30" y="225.34" font-size="7.8" text-anchor="end" textLength="11.7" lengthAdjust="spacingAndGlyphs" >700</text>
<line x1="312.90" y1="210.01" x2="315.90" y2="210.01" stroke="#000" stroke-width="1.4" />
<text x="312.30" y="212.81" font-size="7.8" text-anchor="end" textLength="11.7" lengthAdjust="spacingAndGlyphs" >800</text>
<line x1="328.00" y1="310.25" x2="328.00" y2="313.85" stroke="#000" stroke-width="1.4" />
<line x1="351.75" y1="310.25" x2="351.75" y2="313.85" stroke="#000" stroke-width="1.4" />
<line x1="375.00" y1="310.25" x2="375.00" y2="313.85" stroke="#000" stroke-width="1.4" />
<line x1="407.00" y1="310.25" x2="407.00" y2="313.85" stroke="#000" stroke-width="1.4" />
<line x1="431.25" y1="310.25" x2="431.25" y2="313.85" stroke="#000" stroke-width="1.4" />
<line x1="455.00" y1="310.25" x2="455.00" y2="313.85" stroke="#000" stroke-width="1.4" />
<text x="330.50" y="320.55" font-size="7.4" text-anchor="end" transform="rotate(-45 330.50 320.55)" >No pep</text>
<text x="354.25" y="320.55" font-size="7.4" text-anchor="end" transform="rotate(-45 354.25 320.55)" >P30</text>
<text x="377.50" y="320.55" font-size="7.4" text-anchor="end" transform="rotate(-45 377.50 320.55)" >WT1.126</text>
<text x="409.50" y="320.55" font-size="7.4" text-anchor="end" transform="rotate(-45 409.50 320.55)" >No pep</text>
<text x="433.75" y="320.55" font-size="7.4" text-anchor="end" transform="rotate(-45 433.75 320.55)" >PADRE</text>
<text x="457.50" y="320.55" font-size="7.4" text-anchor="end" transform="rotate(-45 457.50 320.55)" >WT1.126</text>
<text x="319.80" y="196.90" font-size="11.3" text-anchor="start" style="stroke-width:0.1px">F</text>
<text x="295.00" y="260.75" font-size="8" text-anchor="middle" transform="rotate(-90 295.00 260.75)" textLength="77" lengthAdjust="spacingAndGlyphs" >SFCs / million cells</text>
<line x1="391.20" y1="217.50" x2="391.20" y2="310.25" stroke="#000" stroke-width="1.35" />
<line x1="375.65" y1="211.35" x2="454.35" y2="211.35" stroke="#000" stroke-width="1.3" />
<line x1="376.25" y1="211.25" x2="376.25" y2="214.00" stroke="#000" stroke-width="1.3" />
<line x1="453.75" y1="211.25" x2="453.75" y2="214.00" stroke="#000" stroke-width="1.3" />
<text x="400.3" y="209.2" font-size="7.4" textLength="33" lengthAdjust="spacingAndGlyphs"><tspan font-style="italic">P</tspan> = .0124</text>
<circle cx="375.00" cy="227.50" r="2.45"/>
<circle cx="378.75" cy="239.50" r="2.45"/>
<circle cx="375.00" cy="245.00" r="2.45"/>
<circle cx="375.00" cy="268.00" r="2.45"/>
<circle cx="375.00" cy="309.00" r="2.45"/>
<line x1="367.60" y1="258.00" x2="383.60" y2="258.00" stroke="#000" stroke-width="1.5" />
<circle cx="344.50" cy="290.25" r="2.45"/>
<circle cx="351.75" cy="285.25" r="2.45"/>
<circle cx="351.75" cy="295.50" r="2.45"/>
<circle cx="355.50" cy="298.00" r="2.45"/>
<circle cx="351.75" cy="305.25" r="2.45"/>
<line x1="343.60" y1="295.00" x2="359.60" y2="295.00" stroke="#555" stroke-width="1.2" />
<circle cx="322.60" cy="309.40" r="2.45"/>
<circle cx="325.40" cy="309.20" r="2.45"/>
<circle cx="328.00" cy="309.30" r="2.45"/>
<circle cx="331.00" cy="309.20" r="2.45"/>
<circle cx="333.40" cy="309.50" r="2.45"/>
<circle cx="326.50" cy="307.90" r="2.45"/>
<circle cx="329.80" cy="307.90" r="2.45"/>
<line x1="320.00" y1="309.75" x2="336.00" y2="309.75" stroke="#000" stroke-width="1.5" />
<circle cx="404.00" cy="309.00" r="2.45"/>
<circle cx="407.00" cy="307.50" r="2.45"/>
<circle cx="410.00" cy="309.00" r="2.45"/>
<circle cx="405.50" cy="310.00" r="2.45"/>
<circle cx="408.50" cy="310.00" r="2.45"/>
<line x1="400.00" y1="309.50" x2="414.00" y2="309.50" stroke="#000" stroke-width="1.5" />
<circle cx="431.25" cy="283.50" r="2.45"/>
<circle cx="423.75" cy="290.00" r="2.45"/>
<circle cx="435.00" cy="290.00" r="2.45"/>
<circle cx="431.25" cy="296.00" r="2.45"/>
<circle cx="431.25" cy="307.25" r="2.45"/>
<line x1="422.60" y1="293.30" x2="438.60" y2="293.30" stroke="#555" stroke-width="1.2" />
<circle cx="454.50" cy="297.40" r="2.45"/>
<circle cx="456.40" cy="302.80" r="2.45"/>
<circle cx="451.00" cy="305.60" r="2.45"/>
<circle cx="457.80" cy="307.90" r="2.45"/>
<circle cx="454.50" cy="310.80" r="2.45"/>
<line x1="446.40" y1="304.75" x2="462.40" y2="304.75" stroke="#333" stroke-width="1.2" />
<line x1="312.00" y1="342.40" x2="386.20" y2="342.40" stroke="#000" stroke-width="1.3" />
<line x1="390.80" y1="342.40" x2="466.25" y2="342.40" stroke="#000" stroke-width="1.3" />
<text x="353.75" y="352.00" font-size="8.8" text-anchor="middle" >DNA</text>
<text x="431.25" y="352.00" font-size="8.8" text-anchor="middle" >Peptide</text>
</g>
</svg></body></html>
